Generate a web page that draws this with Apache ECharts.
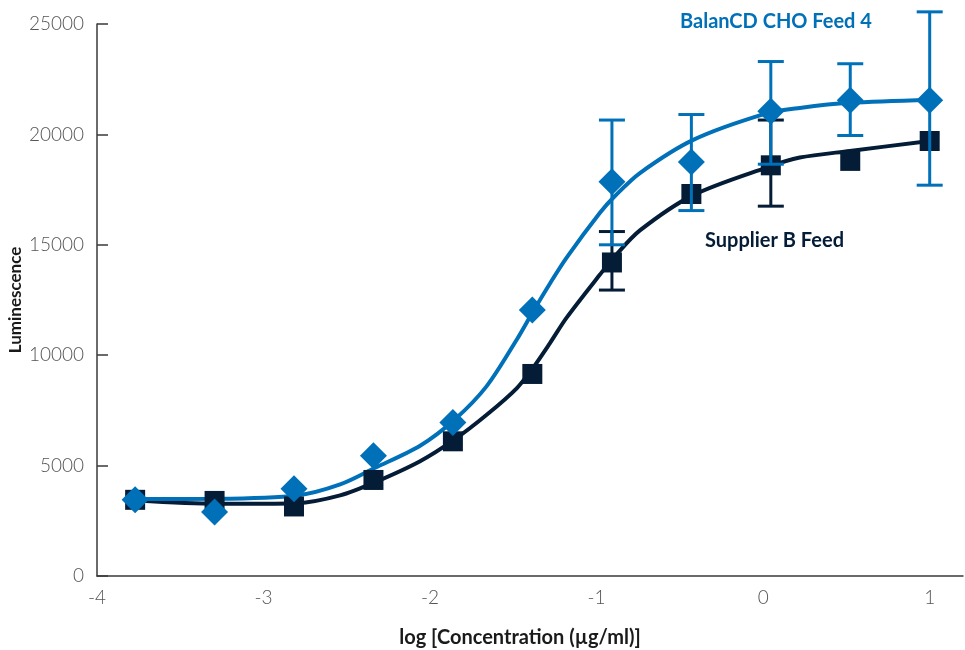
<!DOCTYPE html>
<html>
<head>
<meta charset="utf-8">
<script src="https://cdn.jsdelivr.net/npm/echarts@6/dist/echarts.min.js"></script>
<style>
  html, body { margin: 0; padding: 0; background: #fff; }
  #chart { width: 965px; height: 650px; }
</style>
</head>
<body>
<div id="chart"></div>
<script>
  // log concentration of each dilution
  var logConc = [-3.771, -3.294, -2.817, -2.340, -1.863, -1.386, -0.908, -0.431, 0.046, 0.523, 1.0];

  // measured points
  var balanCD = [3450, 2900, 3950, 5450, 6950, 12050, 17850, 18750, 21050, 21550, 21550];
  var supplierB = [3450, 3400, 3150, 4350, 6100, 9150, 14200, 17300, 18600, 18800, 19700];

  // error bars (null = none shown)
  var balanLow  = [null, null, null, null, null, null, 15000, 16550, 18650, 19950, 17700];
  var balanHigh = [null, null, null, null, null, null, 20650, 20900, 23300, 23200, 25550];
  var suppLow   = [null, null, null, null, null, null, 12950, null, 16750, null, null];
  var suppHigh  = [null, null, null, null, null, null, 15600, null, 20650, null, null];

  // fitted curves
  var curveX     = [-3.76, -3.28, -2.80, -2.54, -2.33, -2.06, -1.85, -1.66, -1.48, -1.38, -1.28, -1.18, -0.98, -0.89, -0.74, -0.42, 0.02, 0.22, 0.52, 1.0];
  var balanCurve = [3490, 3500, 3650, 4150, 4900, 5900, 7100, 8600, 10700, 12000, 13250, 14420, 16450, 17210, 18250, 19750, 20950, 21200, 21430, 21560];
  var suppCurve  = [3420, 3270, 3300, 3650, 4250, 5200, 6200, 7300, 8500, 9450, 10550, 11700, 13650, 14480, 15650, 17250, 18500, 18950, 19250, 19700];

  var xTicks = [-4, -3, -2, -1, 0, 1];

  var blue = '#0070b9';
  var navy = '#041c36';

  function pairs(xs, ys) {
    return xs.map(function (x, i) { return [x, ys[i]]; });
  }
  function errData(lo, hi) {
    var out = [];
    logConc.forEach(function (x, i) {
      if (lo[i] != null) out.push([x, lo[i], hi[i]]);
    });
    return out;
  }
  function errRender(color) {
    return function (params, api) {
      var lo = api.coord([api.value(0), api.value(1)]);
      var hi = api.coord([api.value(0), api.value(2)]);
      var half = 13;
      var st = { stroke: color, lineWidth: 3 };
      return {
        type: 'group',
        children: [
          { type: 'line', shape: { x1: lo[0], y1: lo[1], x2: hi[0], y2: hi[1] }, style: st },
          { type: 'line', shape: { x1: hi[0] - half, y1: hi[1], x2: hi[0] + half, y2: hi[1] }, style: st },
          { type: 'line', shape: { x1: lo[0] - half, y1: lo[1], x2: lo[0] + half, y2: lo[1] }, style: st }
        ]
      };
    };
  }

  var tickFont = { fontFamily: 'Lato', fontWeight: 300, fontSize: 19, color: '#555' };
  var axisLine = { show: true, onZero: false, lineStyle: { color: '#3a3a3a', width: 1.5 } };

  var myChart = echarts.init(document.getElementById('chart'));
  var option = {
    animation: false,
    grid: { left: 97, right: 2, top: 24, bottom: 74, outerBoundsMode: 'none', containLabel: false },
    xAxis: {
      type: 'value',
      min: -4,
      max: 1.2,
      interval: 1,
      name: 'log [Concentration (µg/ml)]',
      nameLocation: 'middle',
      nameGap: 52,
      nameTextStyle: { fontFamily: 'Lato', fontWeight: 'bold', fontSize: 20, color: '#1a1a1a', padding: [0, 20, 0, 0] },
      axisLine: axisLine,
      axisTick: { show: false },
      splitLine: { show: false },
      axisLabel: Object.assign({
        margin: 12,
        formatter: function (v) { return xTicks.indexOf(v) >= 0 ? String(v) : ''; }
      }, tickFont)
    },
    yAxis: {
      type: 'value',
      min: 0,
      max: 25000,
      interval: 5000,
      name: 'Luminescence',
      nameLocation: 'middle',
      nameGap: 73,
      nameMoveOverlap: false,
      nameTextStyle: { fontFamily: 'Lato', fontWeight: 'bold', fontSize: 17, color: '#1a1a1a' },
      axisLine: axisLine,
      axisTick: { show: true, inside: true, length: 11, lineStyle: { color: '#3a3a3a', width: 1.5 } },
      splitLine: { show: false },
      axisLabel: Object.assign({
        margin: 13,
        formatter: function (v) { return String(v); }
      }, tickFont)
    },
    graphic: [
      { type: 'text', left: 680, top: 12, style: { text: 'BalanCD CHO Feed 4', fill: blue, font: 'bold 20px Lato' } },
      { type: 'text', left: 705, top: 231, style: { text: 'Supplier B Feed', fill: navy, font: 'bold 20px Lato' } }
    ],
    series: [
      {
        name: 'Supplier B fit', type: 'line', z: 2, smooth: 0.3, showSymbol: false,
        data: pairs(curveX, suppCurve), lineStyle: { color: navy, width: 4 }
      },
      {
        name: 'BalanCD fit', type: 'line', z: 3, smooth: 0.3, showSymbol: false,
        data: pairs(curveX, balanCurve), lineStyle: { color: blue, width: 4 }
      },
      {
        name: 'Supplier B err', type: 'custom', z: 4,
        renderItem: errRender(navy), data: errData(suppLow, suppHigh)
      },
      {
        name: 'Supplier B Feed', type: 'scatter', z: 5, symbol: 'rect', symbolSize: 20,
        itemStyle: { color: navy, opacity: 1 }, data: pairs(logConc, supplierB)
      },
      {
        name: 'BalanCD err', type: 'custom', z: 6,
        renderItem: errRender(blue), data: errData(balanLow, balanHigh)
      },
      {
        name: 'BalanCD CHO Feed 4', type: 'scatter', z: 7, symbol: 'diamond', symbolSize: 27,
        itemStyle: { color: blue, opacity: 1 }, data: pairs(logConc, balanCD)
      }
    ]
  };
  myChart.setOption(option);
</script>
</body>
</html>
